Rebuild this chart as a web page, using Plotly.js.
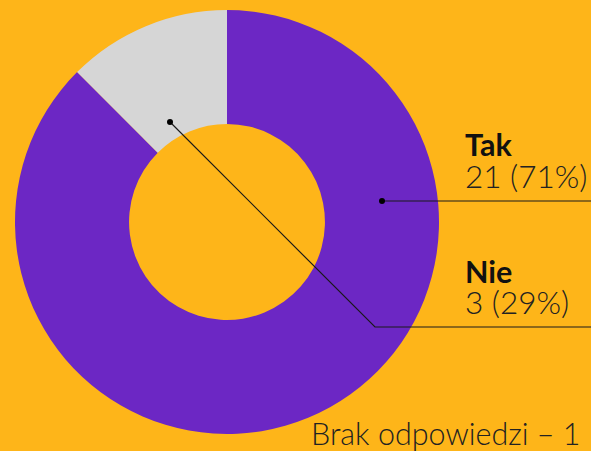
<!DOCTYPE html>
<html>
<head>
<meta charset="utf-8">
<script src="https://cdn.plot.ly/plotly-3.0.1.min.js"></script>
<style>
  body { margin: 0; background: #FEB519; }
  #wykres { width: 591px; height: 451px; }
</style>
</head>
<body>
<div id="wykres"></div>
<script>
var odpowiedzi = ["Tak", "Nie"];
var liczby = [21, 3];
var procenty = ["71%", "29%"];
var kolory = ["#6C27C4", "#D6D6D6"];
var brakOdpowiedzi = 1;

var W = 591, H = 451;
// piksele -> paper
function px(x) { return x / W; }
function py(y) { return 1 - y / H; }

var cx = 227, cy = 222, r = 212;

var data = [{
  type: 'pie',
  labels: odpowiedzi,
  values: liczby,
  marker: { colors: kolory, line: { width: 0 } },
  hole: 0.462,
  sort: false,
  direction: 'clockwise',
  rotation: 0,
  textinfo: 'none',
  hoverinfo: 'none',
  showlegend: false,
  domain: { x: [px(cx - r), px(cx + r)], y: [py(cy + r), py(cy - r)] }
}];

var czcionka = 'Lato, sans-serif';
var annotations = [
  { text: odpowiedzi[0], x: px(463), y: py(144), font: { family: czcionka, size: 30.5, color: '#111', weight: 700 } },
  { text: liczby[0] + ' (' + procenty[0] + ')', x: px(463), y: py(176), font: { family: czcionka, size: 31.5, color: '#222', weight: 300 } },
  { text: odpowiedzi[1], x: px(463), y: py(271), font: { family: czcionka, size: 30.5, color: '#111', weight: 700 } },
  { text: liczby[1] + ' (' + procenty[1] + ')', x: px(463), y: py(302), font: { family: czcionka, size: 31.5, color: '#222', weight: 300 } },
  { text: 'Brak odpowiedzi – ' + brakOdpowiedzi, x: px(309), y: py(433), font: { family: czcionka, size: 30.5, color: '#222', weight: 300 } }
].map(function (a) {
  a.xref = 'paper'; a.yref = 'paper'; a.xanchor = 'left'; a.yanchor = 'middle'; a.showarrow = false;
  return a;
});

var liniaKolor = '#1a1a1a';
var shapes = [
  { type: 'line', x0: px(382), y0: py(201), x1: px(591), y1: py(201), line: { color: liniaKolor, width: 1.2 } },
  { type: 'path', path: 'M ' + px(170) + ',' + py(122) + ' L ' + px(375) + ',' + py(327) + ' L ' + px(591) + ',' + py(327), line: { color: liniaKolor, width: 1.2 } },
  { type: 'circle', x0: px(379), y0: py(198), x1: px(385), y1: py(204), fillcolor: '#000', line: { width: 0 } },
  { type: 'circle', x0: px(167), y0: py(119), x1: px(173), y1: py(125), fillcolor: '#000', line: { width: 0 } }
].map(function (s) { s.xref = 'paper'; s.yref = 'paper'; s.layer = 'above'; return s; });

var layout = {
  width: W, height: H,
  margin: { l: 0, r: 0, t: 0, b: 0 },
  paper_bgcolor: '#FEB519',
  plot_bgcolor: '#FEB519',
  annotations: annotations,
  shapes: shapes
};

Plotly.newPlot('wykres', data, layout, { displayModeBar: false, staticPlot: true });
</script>
</body>
</html>
